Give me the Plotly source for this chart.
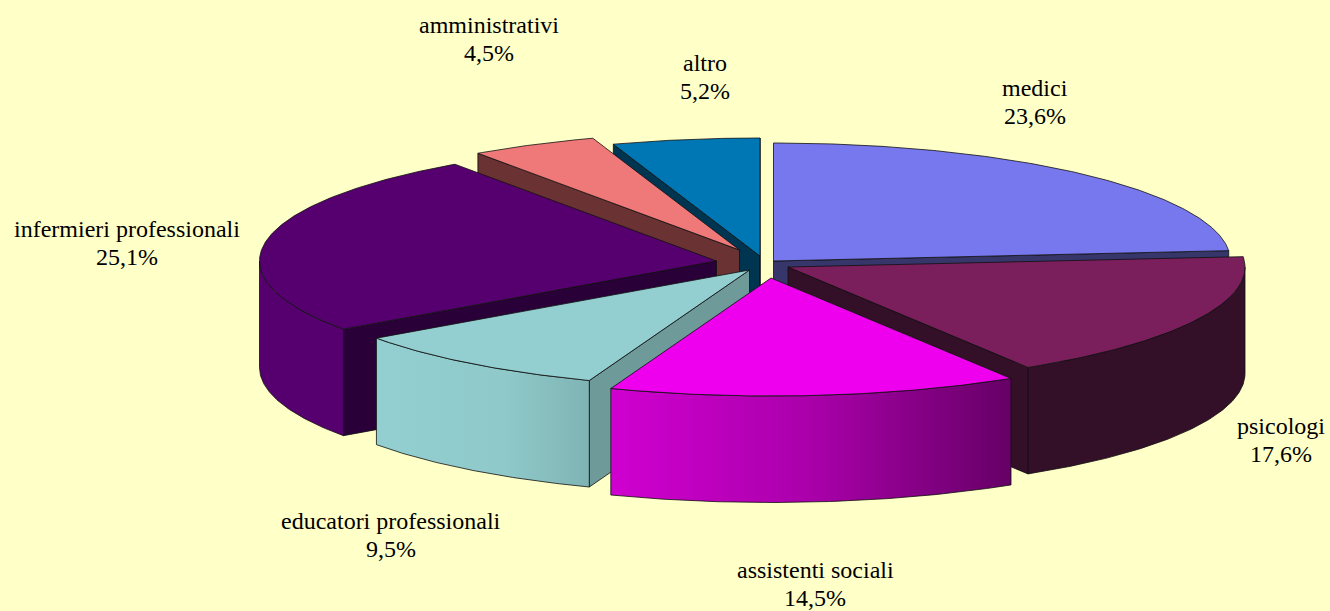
import numpy as np
import plotly.graph_objects as go

# --- data ---
categories = ["medici", "psicologi", "assistenti sociali", "educatori professionali",
              "infermieri professionali", "amministrativi", "altro"]
shares = [23.6, 17.6, 14.5, 9.5, 25.1, 4.5, 5.2]

# --- style / layout ---
top_colors = ["#7878EE", "#7A1F5C", "#EE00EE", "#93CFD1", "#560070", "#EF7878", "#0077B5"]
cut_colors = ["#36366B", "#330F28", "#880088", "#6E9A9A", "#2A0038", "#6A3232", "#003551"]
rim_scales = [
    None,
    [[0, "#330F28"], [1, "#330F28"]],
    [[0, "#D000D0"], [0.5, "#AA00AA"], [1, "#660066"]],
    [[0, "#93CFD1"], [0.6, "#8FC9CA"], [1, "#80B4B4"]],
    [[0, "#560070"], [1, "#560070"]],
    None,
    None,
]
# exploded position of each slice's apex (plot pixels)
apex_x = [773.5, 788, 771, 749.5, 716.5, 739.5, 760]
apex_y = [261, 267, 278, 270, 261, 250, 256]
RX, RY, DEPTH = 457, 118, 106.5
draw_order = [6, 5, 0, 4, 1, 3, 2]
label_x = [1034.5, 1281, 815, 391, 127, 489, 705]
label_y = [102, 440, 584, 535, 243, 39, 77]
LINE_GAP = 13.7
EDGE = "#101010"

bounds = np.concatenate([[0], np.cumsum(shares)]) * 3.6


def rim(cx, cy, a, b, drop=0.0):
    t = np.radians(np.linspace(a, b, max(int(abs(b - a)) * 2, 2)))
    return cx + RX * np.sin(t), cy - RY * np.cos(t) + drop


def poly(fig, x, y, color=None, scale=None):
    x = list(x) + [x[0]]
    y = list(y) + [y[0]]
    kw = dict(fillcolor=color)
    if scale is not None:
        kw = dict(fillgradient=dict(type="horizontal", colorscale=scale))
    fig.add_trace(go.Scatter(x=x, y=y, mode="lines", fill="toself",
                             line=dict(color=EDGE, width=0.8), hoverinfo="skip",
                             showlegend=False, **kw))


fig = go.Figure()
for i in draw_order:
    a, b = bounds[i], bounds[i + 1]
    cx, cy = apex_x[i], apex_y[i]
    # radial cut faces that look towards the viewer
    for ang, visible in ((a, np.sin(np.radians(a)) < 0), (b, np.sin(np.radians(b)) > 0)):
        if visible:
            px, py = rim(cx, cy, ang, ang)
            px, py = px[0], py[0]
            poly(fig, [cx, px, px, cx], [cy, py, py + DEPTH, cy + DEPTH], cut_colors[i])
    # outer wall, front half only
    lo, hi = max(a, 90), min(b, 270)
    if hi > lo:
        x1, y1 = rim(cx, cy, lo, hi)
        x2, y2 = rim(cx, cy, hi, lo, DEPTH)
        poly(fig, np.r_[x1, x2], np.r_[y1, y2], scale=rim_scales[i])
    # top face
    x1, y1 = rim(cx, cy, a, b)
    poly(fig, np.r_[cx, x1], np.r_[cy, y1], top_colors[i])

label_font = dict(family="Liberation Serif", size=24, color="black")
for name, val, lx, ly in zip(categories, shares, label_x, label_y):
    for txt, yy in ((name, ly - LINE_GAP), (f"{str(val).replace('.', ',')}%", ly + LINE_GAP)):
        fig.add_annotation(x=lx, y=yy, text=txt, showarrow=False, xanchor="center",
                           yanchor="middle", align="center", font=label_font)

fig.update_layout(
    width=1330, height=611, margin=dict(l=0, r=0, t=0, b=0), autosize=False,
    paper_bgcolor="#FFFFC8", plot_bgcolor="#FFFFC8", showlegend=False,
    xaxis=dict(range=[0, 1330], visible=False, fixedrange=True),
    yaxis=dict(range=[611, 0], visible=False, fixedrange=True),
)
fig.write_html("out.html", config=dict(displayModeBar=False),
               post_script="document.body.style.margin='0';document.body.style.overflow='hidden';"
                           "document.body.style.background='#FFFFC8';")
